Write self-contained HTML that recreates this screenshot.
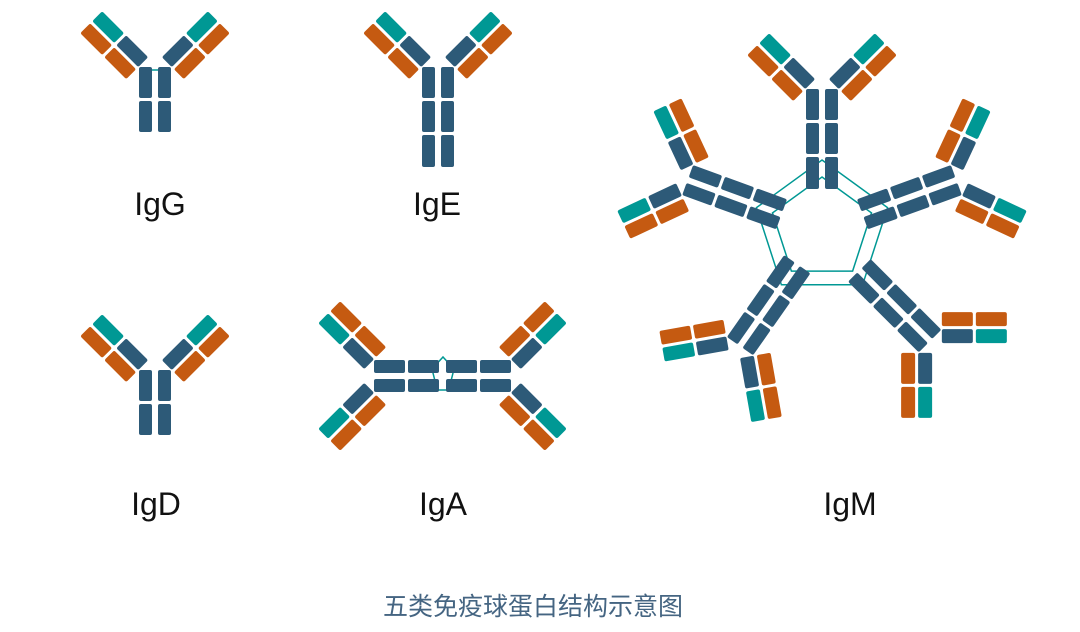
<!DOCTYPE html>
<html><head><meta charset="utf-8"><style>
body{margin:0;background:#fff;width:1080px;height:632px;overflow:hidden}
svg{display:block}
.t{font-family:"Liberation Sans","DejaVu Sans",sans-serif;font-size:32px;fill:#111;text-anchor:middle}
.c{font-family:"Liberation Sans","Noto Sans CJK SC",sans-serif;font-size:25px;fill:#456582;text-anchor:middle}
</style></head><body>
<svg width="1080" height="632" viewBox="0 0 1080 632" xmlns="http://www.w3.org/2000/svg">
<defs>
<g id="arm">
  <g transform="translate(-9,-2) rotate(-135)">
    <rect x="4" y="-7" width="31" height="14" rx="2" fill="#2d5a78"/>
    <rect x="38" y="-7" width="31" height="14" rx="2" fill="#009894"/>
    <rect x="4" y="-24" width="31" height="14" rx="2" fill="#c55a11"/>
    <rect x="38" y="-24" width="31" height="14" rx="2" fill="#c55a11"/>
  </g>
</g>
<g id="arms">
  <use href="#arm"/>
  <use href="#arm" transform="scale(-1,1)"/>
</g>
<g id="y2">
  <use href="#arms"/>
  <rect x="-16" y="0" width="13" height="31" rx="2" fill="#2d5a78"/>
  <rect x="3" y="0" width="13" height="31" rx="2" fill="#2d5a78"/>
  <rect x="-16" y="34" width="13" height="31" rx="2" fill="#2d5a78"/>
  <rect x="3" y="34" width="13" height="31" rx="2" fill="#2d5a78"/>
</g>
<g id="y3">
  <use href="#y2"/>
  <rect x="-16" y="68" width="13" height="32" rx="2" fill="#2d5a78"/>
  <rect x="3" y="68" width="13" height="32" rx="2" fill="#2d5a78"/>
</g>
</defs>

<!-- IgG -->
<g transform="translate(155,67)"><use href="#y2"/><line x1="-3" y1="3" x2="3" y2="3" stroke="#009894" stroke-width="1.5"/></g>
<!-- IgE -->
<g transform="translate(438,67)"><use href="#y3"/></g>
<!-- IgD -->
<g transform="translate(155,370)"><use href="#y2"/></g>
<!-- IgA -->
<polyline points="436,385 432,369 443,357 454,369 450,385" fill="none" stroke="#009894" stroke-width="1.5"/>
<line x1="436" y1="390" x2="450" y2="390" stroke="#009894" stroke-width="1.5"/>
<g transform="translate(374,376) rotate(-90)"><use href="#y2"/></g>
<g transform="translate(511,376) rotate(90)"><use href="#y2"/></g>
<!-- IgM -->
<g transform="translate(822,229)">
  <polygon points="0,-69 65.6,-21.3 40.6,55.8 -40.6,55.8 -65.6,-21.3" fill="none" stroke="#009894" stroke-width="1.5"/>
  <polygon points="0,-52 49.5,-16.1 30.6,42.1 -30.6,42.1 -49.5,-16.1" fill="none" stroke="#009894" stroke-width="1.5"/>
  <g transform="rotate(0) translate(0,-140)"><use href="#y3"/></g>
  <g transform="rotate(70) translate(0,-143)"><use href="#y3"/></g>
  <g transform="translate(2,6) rotate(135) translate(0,-150)"><use href="#y3"/></g>
  <g transform="rotate(215) translate(0,-143)"><use href="#y3"/></g>
  <g transform="rotate(290) translate(0,-143)"><use href="#y3"/></g>
</g>

<text class="t" x="160" y="215">IgG</text>
<text class="t" x="437" y="215">IgE</text>
<text class="t" x="156" y="515">IgD</text>
<text class="t" x="443" y="515">IgA</text>
<text class="t" x="850" y="515">IgM</text>
<text class="c" x="533" y="615">五类免疫球蛋白结构示意图</text>
</svg>
</body></html>
